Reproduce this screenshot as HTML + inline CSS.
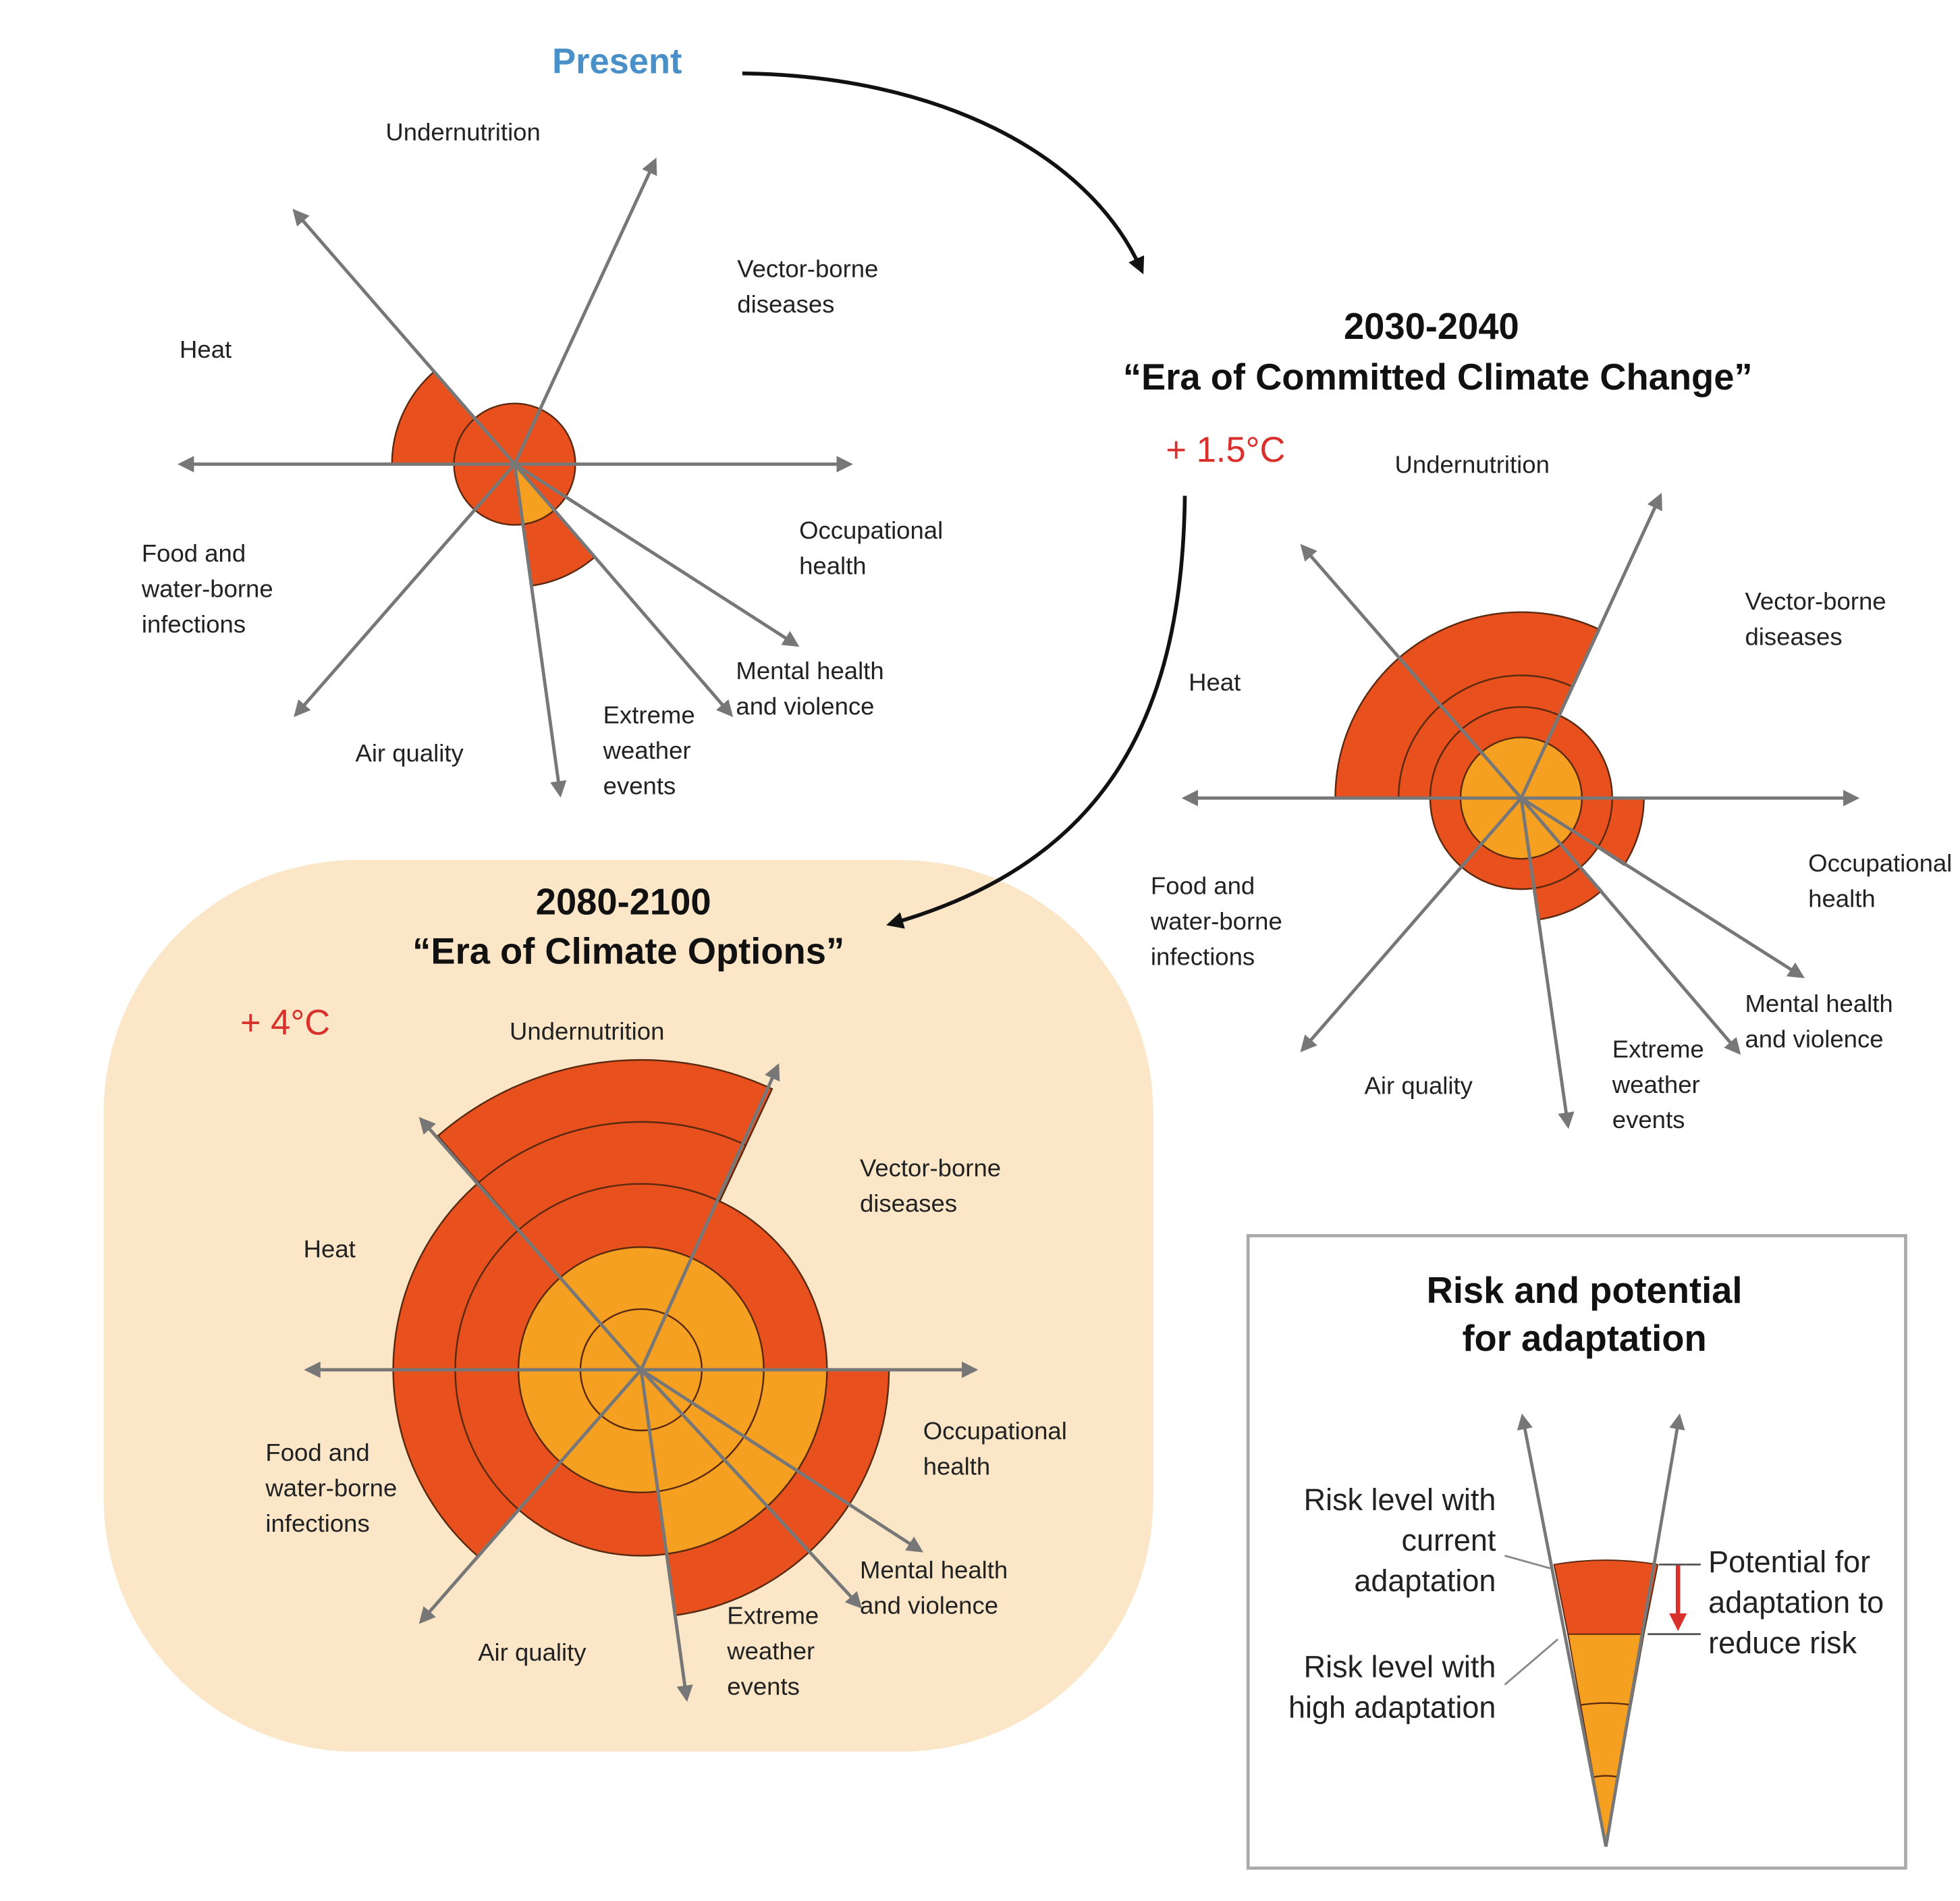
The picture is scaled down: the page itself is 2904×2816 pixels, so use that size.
<!DOCTYPE html>
<html><head><meta charset="utf-8"><style>
html,body{margin:0;padding:0;background:#fff;}
svg{display:block;}
text{font-family:"Liberation Sans",sans-serif;font-size:19.5px;fill:#222;}
.b{font-weight:bold;font-size:29px;fill:#111;}
.r{font-size:28px;fill:#d9302c;}
.lg{font-size:24px;}
</style></head><body>
<svg id="s" width="2904" height="2816" viewBox="0 0 1550 1503" preserveAspectRatio="none" xmlns="http://www.w3.org/2000/svg">
<defs>
<marker id="ga" viewBox="0 0 10 10" refX="8" refY="5" markerWidth="5" markerHeight="5" orient="auto"><path d="M0,0L10,5L0,10z" fill="#777"/></marker>
<marker id="ba" viewBox="0 0 10 10" refX="6" refY="5" markerWidth="4.5" markerHeight="4.5" orient="auto"><path d="M0,0L10,5L0,10z" fill="#111"/></marker>
<marker id="ra" viewBox="0 0 10 10" refX="6" refY="5" markerWidth="4" markerHeight="4" orient="auto"><path d="M0,0L10,5L0,10z" fill="#d9302c"/></marker>
</defs>
<rect x="82" y="680" width="830" height="705" rx="200" fill="#fbe6c7"/>
<g id="g"></g>
<!-- big arrows -->
<path d="M587,58 C740,60 860,120 902,212" fill="none" stroke="#111" stroke-width="3" marker-end="url(#ba)"/>
<path d="M937,392 C935,560 880,680 706,730" fill="none" stroke="#111" stroke-width="3" marker-end="url(#ba)"/>

<text x="488" y="58" text-anchor="middle" style="font-weight:bold;font-size:28px;fill:#4a90c8">Present</text>
<text x="305" y="111">Undernutrition</text>
<text x="583" y="219">Vector-borne</text><text x="583" y="247">diseases</text>
<text x="142" y="283">Heat</text>
<text x="632" y="426">Occupational</text><text x="632" y="454">health</text>
<text x="112" y="444">Food and</text><text x="112" y="472">water-borne</text><text x="112" y="500">infections</text>
<text x="582" y="537">Mental health</text><text x="582" y="565">and violence</text>
<text x="477" y="572">Extreme</text><text x="477" y="600">weather</text><text x="477" y="628">events</text>
<text x="281" y="602">Air quality</text>

<text class="b" x="1132" y="268" text-anchor="middle">2030-2040</text>
<text class="b" x="1137" y="308" text-anchor="middle">“Era of Committed Climate Change”</text>
<text class="r" x="922" y="365">+ 1.5°C</text>
<text x="1103" y="374">Undernutrition</text>
<text x="1380" y="482">Vector-borne</text><text x="1380" y="510">diseases</text>
<text x="940" y="546">Heat</text>
<text x="1430" y="689">Occupational</text><text x="1430" y="717">health</text>
<text x="910" y="707">Food and</text><text x="910" y="735">water-borne</text><text x="910" y="763">infections</text>
<text x="1380" y="800">Mental health</text><text x="1380" y="828">and violence</text>
<text x="1275" y="836">Extreme</text><text x="1275" y="864">weather</text><text x="1275" y="892">events</text>
<text x="1079" y="865">Air quality</text>

<text class="b" x="493" y="723" text-anchor="middle">2080-2100</text>
<text class="b" x="497" y="762" text-anchor="middle">“Era of Climate Options”</text>
<text class="r" x="190" y="818">+ 4°C</text>
<text x="403" y="822">Undernutrition</text>
<text x="680" y="930">Vector-borne</text><text x="680" y="958">diseases</text>
<text x="240" y="994">Heat</text>
<text x="730" y="1138">Occupational</text><text x="730" y="1166">health</text>
<text x="210" y="1155">Food and</text><text x="210" y="1183">water-borne</text><text x="210" y="1211">infections</text>
<text x="680" y="1248">Mental health</text><text x="680" y="1276">and violence</text>
<text x="575" y="1284">Extreme</text><text x="575" y="1312">weather</text><text x="575" y="1340">events</text>
<text x="378" y="1313">Air quality</text>

<!-- legend -->
<rect x="987" y="977" width="520" height="500" fill="#fff" stroke="#aaa" stroke-width="2.5"/>
<text class="b" x="1253" y="1030" text-anchor="middle">Risk and potential</text>
<text class="b" x="1253" y="1068" text-anchor="middle">for adaptation</text>
<path d="M1270,1460 L1240,1292 L1300,1292 Z" fill="#f5a021" stroke="#5a2a10" stroke-width="1"/>
<path d="M1240,1292 L1229,1237 Q1270,1230 1311,1237 L1300,1292 Z" fill="#e8501e" stroke="#5a2a10" stroke-width="1"/>
<path d="M1250,1348 Q1270,1345 1290,1348 M1260,1405 Q1270,1403 1280,1405" fill="none" stroke="#5a2a10" stroke-width="1.2"/>
<line x1="1270" y1="1460" x2="1204" y2="1120" stroke="#777" stroke-width="2.5" marker-end="url(#ga)"/>
<line x1="1270" y1="1460" x2="1328" y2="1120" stroke="#777" stroke-width="2.5" marker-end="url(#ga)"/>
<line x1="1327" y1="1237" x2="1327" y2="1284" stroke="#d9302c" stroke-width="3.5" marker-end="url(#ra)"/>
<line x1="1312" y1="1237" x2="1345" y2="1237" stroke="#555" stroke-width="1.5"/>
<line x1="1303" y1="1292" x2="1345" y2="1292" stroke="#555" stroke-width="1.5"/>
<line x1="1190" y1="1230" x2="1226" y2="1240" stroke="#888" stroke-width="1.5"/>
<line x1="1190" y1="1332" x2="1232" y2="1296" stroke="#888" stroke-width="1.5"/>
<text class="lg" x="1183" y="1194" text-anchor="end">Risk level with</text>
<text class="lg" x="1183" y="1226" text-anchor="end">current</text>
<text class="lg" x="1183" y="1258" text-anchor="end">adaptation</text>
<text class="lg" x="1183" y="1326" text-anchor="end">Risk level with</text>
<text class="lg" x="1183" y="1358" text-anchor="end">high adaptation</text>
<text class="lg" x="1351" y="1243">Potential for</text>
<text class="lg" x="1351" y="1275">adaptation to</text>
<text class="lg" x="1351" y="1307">reduce risk</text>
</svg>
<script>
var NS="http://www.w3.org/2000/svg",g=document.getElementById("g");
var RED="#e8501e",YEL="#f5a021",ST="#5a2a10";
function el(t,a){var e=document.createElementNS(NS,t);for(var k in a)e.setAttribute(k,a[k]);g.appendChild(e);return e;}
function pt(cx,cy,r,a){a=a*Math.PI/180;return [cx+r*Math.cos(a),cy+r*Math.sin(a)];}
function sec(cx,cy,r0,r1,a0,a1,f){
 var l=(a1-a0)>180?1:0,p1=pt(cx,cy,r1,a0),p2=pt(cx,cy,r1,a1),d;
 if(r0<=0){d="M"+cx+","+cy+"L"+p1+"A"+r1+","+r1+" 0 "+l+" 1 "+p2+"Z";}
 else{var q1=pt(cx,cy,r0,a1),q2=pt(cx,cy,r0,a0);d="M"+p1+"A"+r1+","+r1+" 0 "+l+" 1 "+p2+"L"+q1+"A"+r0+","+r0+" 0 "+l+" 0 "+q2+"Z";}
 el("path",{d:d,fill:f,stroke:ST,"stroke-width":1.3});}
function circ(cx,cy,r,f){el("circle",{cx:cx,cy:cy,r:r,fill:f,stroke:ST,"stroke-width":1.3});}
function arc(cx,cy,r,a0,a1){var p1=pt(cx,cy,r,a0),p2=pt(cx,cy,r,a1);el("path",{d:"M"+p1+"A"+r+","+r+" 0 "+((a1-a0)>180?1:0)+" 1 "+p2,fill:"none",stroke:ST,"stroke-width":1.3});}
function axes(cx,cy,ends){ends.forEach(function(e){el("line",{x1:cx,y1:cy,x2:e[0],y2:e[1],stroke:"#777","stroke-width":2.6,"marker-end":"url(#ga)"});});}
// Present
var cx=407,cy=367;
sec(cx,cy,0,97,180,229,RED);circ(cx,cy,48,RED);sec(cx,cy,48,97,49,82,RED);sec(cx,cy,0,48,49,82,YEL);
axes(cx,cy,[[143,367],[672,367],[233,167],[518,127],[630,510],[578,565],[443,628],[234,565]]);
// 2030
cx=1203;cy=631;
sec(cx,cy,0,147,180,295,RED);arc(cx,cy,97,180,295);
sec(cx,cy,0,97,0,33,RED);sec(cx,cy,0,97,49,82,RED);
circ(cx,cy,72,RED);circ(cx,cy,48,YEL);
axes(cx,cy,[[937,631],[1468,631],[1030,432],[1313,392],[1425,772],[1375,832],[1240,890],[1030,830]]);
// 2080
cx=507;cy=1083;
sec(cx,cy,0,196,131,295,RED);sec(cx,cy,0,245,229,295,RED);arc(cx,cy,196,229,295);
sec(cx,cy,0,196,0,82,RED);circ(cx,cy,147,RED);sec(cx,cy,0,147,0,82,YEL);
circ(cx,cy,97,YEL);circ(cx,cy,48,YEL);
axes(cx,cy,[[243,1083],[771,1083],[333,885],[615,843],[728,1226],[680,1270],[543,1343],[333,1282]]);
</script>
</body></html>
